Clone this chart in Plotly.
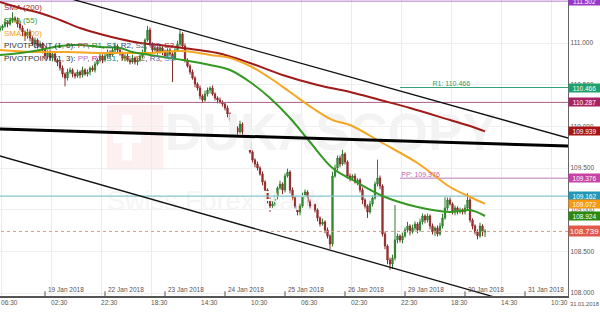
import plotly.graph_objects as go

# ---------------- data ----------------
# x = trading hours counted from 19 Jan 2018 00:00 (weekends removed), one candle per hour
first_hour = -18
first_open = 111.156
close = [
111.180,111.204,111.252,111.228,111.276,111.300,111.276,111.228,111.180,111.132,
111.084,111.132,111.060,110.988,111.036,110.964,110.988,110.916,110.844,110.892,
110.820,110.868,110.796,110.772,110.700,110.628,110.580,110.652,110.676,110.628,
110.604,110.652,110.616,110.676,110.628,110.652,110.700,110.676,110.748,110.796,
110.844,110.796,110.844,110.892,110.856,110.916,110.964,110.916,110.868,110.820,
110.844,110.796,110.772,110.820,110.772,110.796,110.844,110.892,111.036,111.156,
110.988,110.916,110.940,110.892,110.940,110.892,110.844,110.916,110.868,110.820,
110.916,110.988,111.108,110.964,110.796,110.724,110.652,110.580,110.508,110.460,
110.364,110.316,110.388,110.436,110.460,110.388,110.340,110.316,110.292,110.268,
110.220,110.148,110.076,110.028,109.980,109.932,110.028,109.932,109.860,109.812,
109.692,109.596,109.548,109.500,109.428,109.332,109.236,109.116,109.044,109.068,
109.164,109.260,109.308,109.236,109.404,109.452,109.236,109.140,109.044,108.972,
109.044,109.164,109.212,109.092,109.044,109.068,108.996,108.900,108.828,108.852,
108.756,108.684,108.588,109.404,109.500,109.620,109.548,109.668,109.572,109.404,
109.380,109.404,109.332,109.356,109.236,109.116,109.044,108.972,109.068,109.140,
109.308,109.380,109.284,108.708,108.564,108.396,108.348,108.420,108.636,108.684,
108.636,108.684,108.756,108.804,108.732,108.780,108.828,108.756,108.852,108.924,
108.876,108.924,108.804,108.732,108.780,108.708,108.804,108.900,109.020,109.116,
109.068,108.972,109.020,108.972,108.996,108.972,109.020,109.116,108.876,108.804,
108.732,108.684,108.804,108.732,108.739]
upper_wick = [
.03,.02,.04,.02,.03,.07,.02,.03,.02,.03, .02,.04,.03,.02,.03,.02,.04,.02,.03,.02,
.03,.02,.03,.02,.02,.03,.02,.04,.03,.02, .02,.03,.02,.04,.02,.03,.02,.03,.03,.02,
.04,.02,.03,.03,.02,.03,.04,.02,.02,.03, .02,.03,.02,.04,.02,.03,.02,.03,.02,.05,
.03,.02,.03,.02,.04,.02,.03,.02,.03,.02, .03,.04,.05,.02,.03,.02,.02,.03,.02,.02,
.03,.02,.04,.03,.02,.03,.02,.02,.03,.02, .02,.03,.02,.02,.03,.02,.04,.02,.03,.02,
.03,.02,.02,.03,.02,.03,.02,.02,.03,.04, .03,.02,.04,.02,.03,.04,.02,.03,.02,.02,
.03,.04,.03,.02,.03,.02,.03,.02,.02,.04, .02,.03,.02,.05,.04,.03,.03,.05,.02,.02,
.03,.02,.03,.02,.02,.03,.02,.02,.04,.03, .03,.22,.03,.02,.03,.02,.03,.04,.42,.03,
.02,.04,.03,.05,.02,.04,.03,.02,.04,.03, .02,.03,.02,.03,.02,.03,.04,.05,.13,.03,
.03,.02,.03,.02,.03,.02,.04,.08,.03,.02, .02,.03,.04,.02,.03]
lower_wick = [
.02,.03,.02,.04,.02,.03,.02,.04,.03,.05, .06,.03,.04,.02,.05,.03,.02,.04,.03,.04,
.03,.04,.02,.05,.03,.04,.10,.03,.02,.04, .03,.02,.04,.03,.02,.03,.04,.02,.03,.02,
.03,.04,.02,.03,.04,.02,.03,.04,.02,.03, .04,.02,.03,.02,.03,.04,.02,.03,.04,.02,
.03,.04,.02,.03,.02,.04,.03,.02,.03,.29, .03,.02,.03,.04,.03,.02,.03,.02,.04,.03,
.04,.03,.02,.03,.04,.02,.03,.04,.02,.03, .03,.04,.02,.03,.04,.03,.02,.03,.04,.03,
.02,.03,.04,.03,.02,.04,.03,.04,.07,.03, .03,.04,.02,.05,.03,.02,.04,.03,.03,.04,
.04,.02,.03,.04,.03,.02,.03,.04,.03,.02, .04,.03,.06,.03,.02,.03,.04,.02,.03,.03,
.04,.03,.02,.04,.03,.05,.03,.07,.02,.03, .02,.03,.04,.03,.04,.05,.07,.06,.03,.04,
.03,.04,.02,.03,.04,.02,.03,.04,.02,.03, .04,.03,.04,.03,.05,.03,.02,.03,.02,.03,
.02,.03,.04,.03,.02,.03,.03,.02,.03,.04, .03,.04,.02,.05,.06]

sma200_h = [-18, -10, -2, 6, 14, 22, 30, 38, 46, 55, 69, 82, 95, 109, 122, 134, 146, 162, 170, 176]
sma200_v = [111.492, 111.420, 111.360, 111.276, 111.180, 111.108, 111.048, 111.000, 110.976, 110.940,
            110.880, 110.760, 110.616, 110.496, 110.412, 110.316, 110.220, 110.076, 110.004, 109.939]
sma100_h = [-18, -5, 9, 22, 35, 42, 55, 66, 74, 82, 90, 98, 107, 115, 122, 135, 149, 156, 162, 170, 176]
sma100_v = [110.916, 110.892, 110.892, 110.880, 110.880, 110.880, 110.904, 110.856, 110.820, 110.724,
            110.580, 110.412, 110.220, 110.076, 110.016, 109.800, 109.560, 109.404, 109.272, 109.152, 109.072]
sma55_h = [-18, -10, -2, 6, 14, 22, 30, 35, 42, 55, 66, 74, 82, 90, 98, 106, 115, 123, 135, 149, 162, 170, 176]
sma55_v = [110.856, 110.880, 110.916, 110.964, 110.976, 110.952, 110.940, 110.892, 110.856, 110.796,
           110.736, 110.676, 110.532, 110.340, 110.100, 109.812, 109.500, 109.356, 109.164, 109.032,
           108.972, 108.996, 108.924]

trend_upper_h = [-20, 212]
trend_upper_v = [111.785, 109.836]
trend_mid_h = [-20, 212]
trend_mid_v = [109.970, 109.762]
trend_lower_h = [-20, 212]
trend_lower_v = [109.661, 107.676]

pivot_start_h = 142
pp_value = 109.376
r1_value = 110.466
level_top = 111.502
level_mid = 110.287
level_teal = 109.162
last_price = 108.739
sma200_last = 109.939
sma100_last = 109.072
sma55_last = 108.924

time_tick_h = [-17.5, 2.5, 22.5, 42.5, 62.5, 82.5, 102.5, 122.5, 142.5, 162.5, 182.5, 202.5]
time_tick_text = ["06:30", "02:30", "22:30", "18:30", "14:30", "10:30",
                  "06:30", "02:30", "22:30", "18:30", "14:30", "10:30"]
date_tick_h = [-24, 0, 24, 48, 72, 96, 120, 144, 168, 192]
date_tick_text = ["18 Jan 2018", "19 Jan 2018", "22 Jan 2018", "23 Jan 2018", "24 Jan 2018",
                  "25 Jan 2018", "26 Jan 2018", "29 Jan 2018", "30 Jan 2018", "31 Jan 2018"]
y_tick_vals = [108.0, 108.5, 109.0, 109.5, 110.0, 110.5, 111.0]
corner_date = "31.01.2018"

X_RANGE = [-18, 209.2]
Y_RANGE = [107.964, 111.516]

# ---------------- derived ----------------
hours = [first_hour + i for i in range(len(close))]
opens = [first_open] + close[:-1]
highs = [max(o, c) + u for o, c, u in zip(opens, close, upper_wick)]
lows = [min(o, c) - l for o, c, l in zip(opens, close, lower_wick)]

FONT = "Liberation Sans, Arial, sans-serif"
fig = go.Figure()

# watermark (below everything)
fig.add_trace(go.Scatter(x=[48], y=[109.872], mode="text", text=["DUKASCOPY"],
                         textposition="middle right", hoverinfo="skip",
                         textfont=dict(size=52, color="#f3f3f3", family=FONT, weight="bold")))
fig.add_trace(go.Scatter(x=[24.8], y=[109.08], mode="text", text=["Swiss Forex Bank"],
                         textposition="middle right", hoverinfo="skip",
                         textfont=dict(size=27, color="#f5f5f5", family=FONT)))

def hline(x0, x1, v, color, width=1, dash="solid"):
    fig.add_trace(go.Scatter(x=[x0, x1], y=[v, v], mode="lines", hoverinfo="skip",
                             line=dict(color=color, width=width, dash=dash)))

hline(-20, 212, level_top, "#b27cc9", 1)
hline(-20, 212, level_mid, "#a8608a", 1)
hline(-20, 212, level_teal, "#86c6cc", 1.2)
hline(-20, 212, last_price, "#d49a88", 1, "dot")
hline(pivot_start_h, 212, r1_value, "#3aa27a", 1)
hline(pivot_start_h, 212, pp_value, "#d2a6d2", 1.5)

fig.add_trace(go.Candlestick(
    x=hours, open=opens, high=highs, low=lows, close=close,
    increasing=dict(line=dict(color="#2f7d2f", width=1), fillcolor="#45a045"),
    decreasing=dict(line=dict(color="#8c2a2a", width=1), fillcolor="#b03838"),
    whiskerwidth=0, hoverinfo="skip"))

fig.add_trace(go.Scatter(x=sma200_h, y=sma200_v, mode="lines", line=dict(color="#a01a1a", width=2, shape="spline"), hoverinfo="skip"))
fig.add_trace(go.Scatter(x=sma100_h, y=sma100_v, mode="lines", line=dict(color="#f5a623", width=2, shape="spline"), hoverinfo="skip"))
fig.add_trace(go.Scatter(x=sma55_h, y=sma55_v, mode="lines", line=dict(color="#339922", width=2, shape="spline"), hoverinfo="skip"))

fig.add_trace(go.Scatter(x=trend_upper_h, y=trend_upper_v, mode="lines", line=dict(color="#111", width=1.3), hoverinfo="skip"))
fig.add_trace(go.Scatter(x=trend_mid_h, y=trend_mid_v, mode="lines", line=dict(color="#000", width=3), hoverinfo="skip"))
fig.add_trace(go.Scatter(x=trend_lower_h, y=trend_lower_v, mode="lines", line=dict(color="#111", width=1.3), hoverinfo="skip"))

# pivot texts on chart
fig.add_trace(go.Scatter(x=[pivot_start_h + 0.5, pivot_start_h + 13], y=[pp_value, r1_value], mode="text",
                         text=[f"PP: {pp_value:.3f}", f"R1: {r1_value:.3f}"],
                         textposition="top right", hoverinfo="skip",
                         textfont=dict(size=7, color=["#c066b4", "#2a9a6a"], family=FONT)))

shapes = []
# watermark logo
shapes.append(dict(type="rect", xref="x", yref="y", x0=24.8, x1=47.2, y0=109.476, y1=110.256,
                   fillcolor="#fcf0f0", line=dict(width=0), layer="below"))
shapes.append(dict(type="rect", xref="x", yref="y", x0=27.2, x1=38.4, y0=109.80, y1=109.93,
                   fillcolor="#ffffff", line=dict(width=0), layer="below"))
shapes.append(dict(type="rect", xref="x", yref="y", x0=30.8, x1=34.8, y0=109.59, y1=110.14,
                   fillcolor="#ffffff", line=dict(width=0), layer="below"))
# date ticks
for h in date_tick_h:
    if X_RANGE[0] <= h <= X_RANGE[1]:
        shapes.append(dict(type="line", xref="x", yref="paper", x0=h, x1=h, y0=0, y1=0.016,
                           line=dict(color="#555", width=1)))

annotations = []
for h, t in zip(date_tick_h, date_tick_text):
    annotations.append(dict(x=h, xref="x", y=0, yref="paper", yanchor="bottom", xanchor="left",
                            xshift=1, yshift=1, text=t, showarrow=False,
                            font=dict(size=6.5, color="#555", family=FONT)))
annotations.append(dict(x=1, xref="paper", y=0, yref="paper", xanchor="left", yanchor="top",
                        xshift=0, yshift=-3, text=corner_date, showarrow=False,
                        font=dict(size=5.8, color="#555", family=FONT)))

# right-side value labels
labels = [
    (level_top, "#9b35c9"), (r1_value, "#1fa06c"), (level_mid, "#a82363"),
    (sma200_last, "#a81414"), (pp_value, "#c843a6"), (level_teal, "#2497b8"),
    (sma100_last, "#f59a10"), (sma55_last, "#2b8a0c"),
]
for v, col in labels:
    annotations.append(dict(x=1, xref="paper", y=v, yref="y", xanchor="left", yanchor="middle",
                            text=f"{v:.3f}", showarrow=False, bgcolor=col, width=31, height=8,
                            borderpad=0, font=dict(size=6.5, color="white", family=FONT)))
annotations.append(dict(x=1, xref="paper", y=last_price, yref="y", xanchor="left", yanchor="middle",
                        text=f"{last_price:.3f}", showarrow=False, bgcolor="#e2584a", width=31, height=10,
                        borderpad=0, font=dict(size=8, color="white", family=FONT)))

# indicator legend (top-left)
def sp(t, c):
    return f"<span style='color:{c}'>{t}</span>"
legend_lines = [
    sp("SMA (200)", "#9b1c1c"),
    sp("SMA (55)", "#3d9a22"),
    sp("SMA (100)", "#f0a020"),
    sp("PIVOTPOINT (1, 6): ", "#333") + sp("PP", "#a04848") + sp(", ", "#333") + sp("R1", "#2a8a2a")
    + sp(", ", "#333") + sp("S1", "#2a6a7a") + sp(", ", "#333") + sp("R2", "#3a3a8a") + sp(", ", "#333")
    + sp("S2", "#666") + sp(", ", "#333") + sp("R3", "#805080") + sp(", ", "#333") + sp("S3", "#a03030"),
    sp("PIVOTPOINT (1, 3): ", "#333") + sp("PP", "#c070c0") + sp(", ", "#333") + sp("R1", "#c03080")
    + sp(", ", "#333") + sp("S1", "#208080") + sp(", ", "#333") + sp("R2", "#908020") + sp(", ", "#333")
    + sp("S2", "#a06020") + sp(", ", "#333") + sp("R3", "#6060a0") + sp(", ", "#333") + sp("S3", "#4a96d8"),
]
legend_y_px = [8, 20.5, 33, 45.5, 58]
for txt, ypx in zip(legend_lines, legend_y_px):
    annotations.append(dict(x=0, xref="paper", y=1 - ypx / 296, yref="paper", xanchor="left",
                            yanchor="middle", xshift=2, text=txt, showarrow=False,
                            font=dict(size=8, family=FONT)))

fig.update_layout(
    width=600, height=320, margin=dict(l=0, r=32, t=0, b=24),
    paper_bgcolor="white", plot_bgcolor="white", showlegend=False,
    font=dict(family=FONT, size=7, color="#555"),
    shapes=shapes, annotations=annotations,
    xaxis=dict(range=X_RANGE, rangeslider=dict(visible=False), tickmode="array",
               tickvals=time_tick_h, ticktext=time_tick_text, ticklabelshift=8,
               tickfont=dict(size=6.5, color="#555", family=FONT), ticks="",
               showgrid=True, gridcolor="#ececec", gridwidth=1, zeroline=False,
               showline=True, linecolor="#555", linewidth=1.5, fixedrange=True),
    yaxis=dict(range=Y_RANGE, side="right", tickmode="array", tickvals=y_tick_vals,
               ticktext=[f"{v:.3f}" for v in y_tick_vals],
               tickfont=dict(size=6.5, color="#555", family=FONT), ticks="",
               showgrid=True, gridcolor="#efefef", zeroline=False,
               showline=True, linecolor="#666", linewidth=1.2, fixedrange=True),
)

fig.write_html("out.html", include_plotlyjs=True, config={"displayModeBar": False, "staticPlot": True})
